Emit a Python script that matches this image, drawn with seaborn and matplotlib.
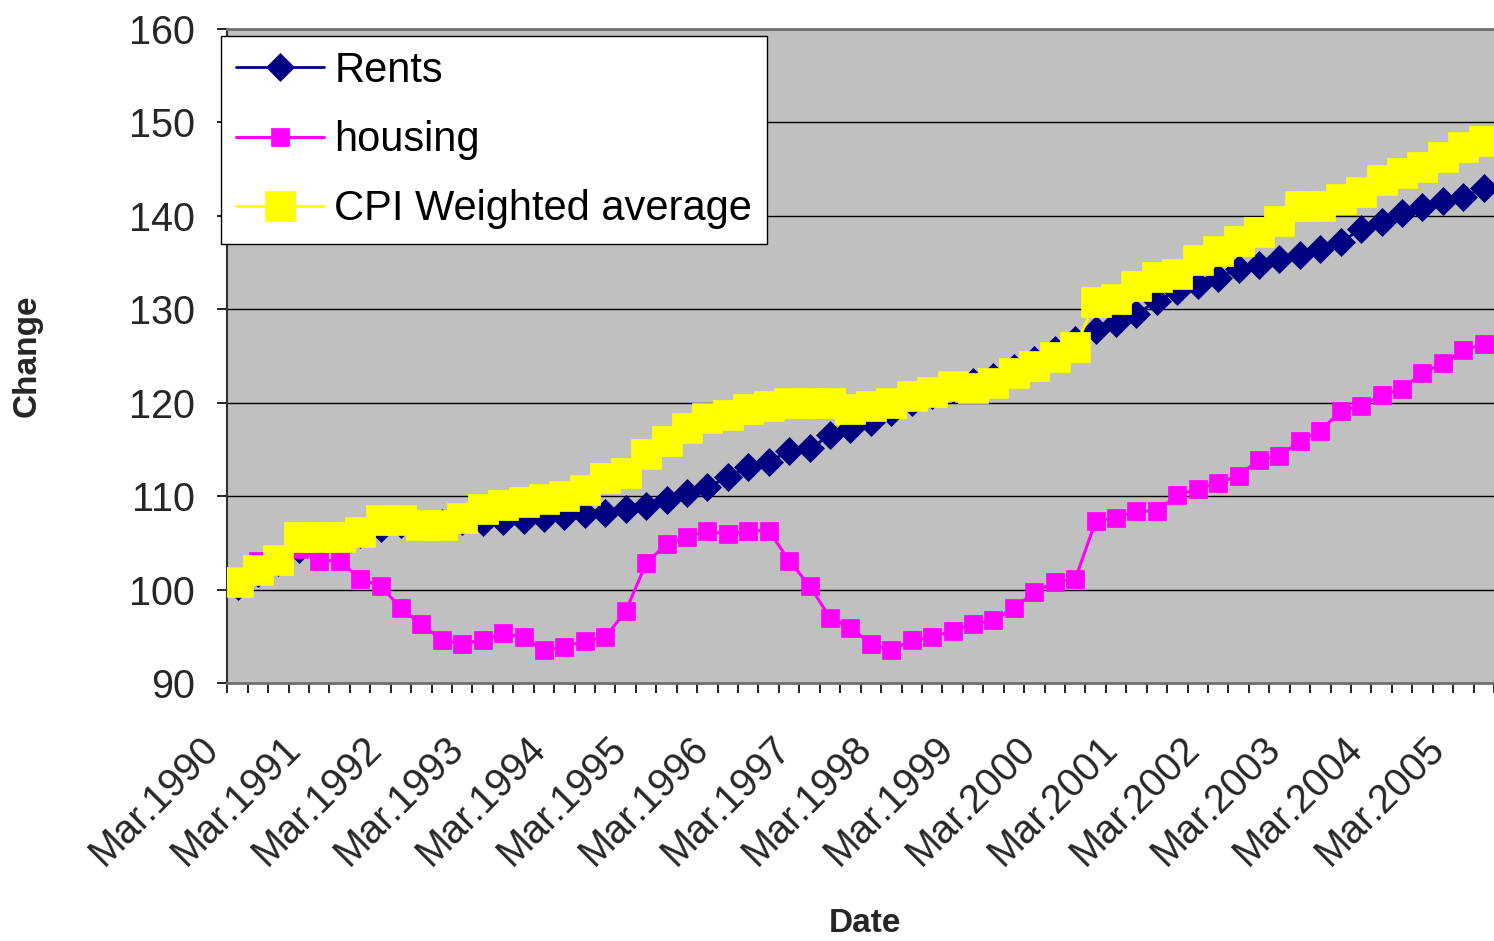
import numpy as np
import pandas as pd
import matplotlib
matplotlib.use("Agg")
import matplotlib.pyplot as plt
import seaborn as sns
from matplotlib.transforms import ScaledTranslation

# ---- data (quarterly index, Mar.1990 = first quarter) ----
rents = [100.4, 101.8, 103.0, 104.3, 104.9, 105.4, 105.9, 106.6, 107.0, 107.0,
         107.1, 107.3, 107.2, 107.3, 107.4, 107.7, 107.9, 108.1, 108.2, 108.6,
         108.9, 109.6, 110.3, 111.0, 112.0, 113.1, 113.7, 114.8, 115.1, 116.5,
         117.2, 117.9, 119.0, 120.1, 120.8, 121.5, 122.2, 122.8, 123.7, 124.6,
         125.6, 126.7, 127.8, 128.5, 129.5, 130.9, 132.0, 132.6, 133.4, 134.3,
         134.7, 135.4, 135.8, 136.4, 137.2, 138.6, 139.3, 140.3, 141.0, 141.6,
         142.0, 143.0]

housing = [101.5, 103.1, 103.6, 104.3, 103.1, 103.1, 101.1, 100.4, 98.0, 96.3,
           94.6, 94.2, 94.6, 95.3, 94.9, 93.5, 93.9, 94.5, 94.9, 97.7,
           102.8, 104.9, 105.6, 106.3, 105.9, 106.3, 106.3, 103.1, 100.4, 97.0,
           95.9, 94.2, 93.5, 94.6, 94.9, 95.6, 96.3, 96.7, 98.0, 99.7,
           100.8, 101.1, 107.3, 107.7, 108.4, 108.4, 110.1, 110.8, 111.4, 112.2,
           113.9, 114.3, 115.9, 117.0, 119.1, 119.7, 120.8, 121.5, 123.2, 124.2,
           125.6, 126.3]

cpi = [100.8, 102.1, 103.2, 105.6, 105.6, 105.6, 106.2, 107.4, 107.4, 106.9,
       106.9, 107.7, 108.6, 109.1, 109.4, 109.7, 110.0, 110.7, 111.9, 112.5,
       114.5, 115.9, 117.3, 118.4, 118.7, 119.3, 119.7, 120.0, 120.0, 120.0,
       119.3, 119.7, 120.0, 120.7, 121.1, 121.8, 121.6, 122.1, 123.2, 123.9,
       124.9, 126.0, 130.8, 131.1, 132.5, 133.5, 133.8, 135.3, 136.2, 137.3,
       138.3, 139.4, 141.1, 141.1, 141.8, 142.5, 143.8, 144.6, 145.2, 146.3,
       147.4, 148.0]

tick_labels = ["Mar.1990", "Mar.1991", "Mar.1992", "Mar.1993", "Mar.1994",
               "Mar.1995", "Mar.1996", "Mar.1997", "Mar.1998", "Mar.1999",
               "Mar.2000", "Mar.2001", "Mar.2002", "Mar.2003", "Mar.2004",
               "Mar.2005"]

series_names = ["Rents", "housing", "CPI Weighted average"]
series_colors = ["#000080", "#FF00FF", "#FFFF00"]

quarters = np.arange(len(rents))
df = pd.DataFrame({"q": quarters, "Rents": rents, "housing": housing,
                   "CPI Weighted average": cpi})

sns.set_theme(style="white")
plt.rcParams["font.family"] = ["Liberation Sans", "DejaVu Sans"]

W, H = 1494, 941
fig = plt.figure(figsize=(W / 100, H / 100), dpi=100)
x0, x1, y0, y1 = 227.3, 1494.0, 29.0, 683.0
ax = fig.add_axes([x0 / W, 1 - y1 / H, (x1 - x0) / W, (y1 - y0) / H])
ax.set_facecolor("#C0C0C0")

styles = {
    "Rents": dict(marker="D", markersize=14.5, linewidth=2.0),
    "housing": dict(marker="s", markersize=13.5, linewidth=2.2),
    "CPI Weighted average": dict(marker="s", markersize=21, linewidth=2.0),
}
for name, col in zip(series_names, series_colors):
    st = styles[name]
    sns.lineplot(data=df, x="q", y=name, ax=ax, color=col, label=name,
                 marker=st["marker"], markersize=st["markersize"],
                 markeredgecolor=col, markerfacecolor=col, markeredgewidth=0.5,
                 linewidth=st["linewidth"], zorder=3)

# axes limits / scales
tick_step_px = (1487.5 - 227.3) / 61
ax.set_xlim(-0.5, -0.5 + (x1 - x0) / tick_step_px)
ax.set_ylim(90, 160)

ax.set_yticks(np.arange(90, 161, 10))
ax.yaxis.grid(True, color="black", linewidth=1.0)
ax.xaxis.grid(False)
ax.set_axisbelow(True)

ax.set_xticks(quarters[::4][:len(tick_labels)])
ax.set_xticklabels(tick_labels, rotation=45, ha="right", va="center",
                   rotation_mode="anchor", fontsize=28.5)
ax.set_xticks(np.arange(-0.5, len(rents) + 0.5, 1), minor=True)
ax.tick_params(axis="x", which="major", length=0, pad=43)
ax.tick_params(axis="x", which="minor", length=7.2, width=1.2, color="black",
               direction="out", bottom=True)
ax.tick_params(axis="y", which="major", length=7.2, width=1.2, color="black",
               direction="out", left=True, labelsize=28.5, pad=16)
for lbl in ax.get_xticklabels():
    lbl.set_transform(lbl.get_transform() +
                      ScaledTranslation(-0.25, 0, fig.dpi_scale_trans))

for side in ["top", "bottom"]:
    ax.spines[side].set_color("#707070")
    ax.spines[side].set_linewidth(2.0)
ax.spines["left"].set_color("#303030")
ax.spines["left"].set_linewidth(1.5)
ax.spines["right"].set_visible(False)

ax.set_ylabel("Change", fontsize=24, fontweight="bold", va="center")
ax.yaxis.set_label_coords((27 - x0) / (x1 - x0), 0.5)
ax.set_xlabel("Date", fontsize=24, fontweight="bold", va="center")
ax.xaxis.set_label_coords((865 - x0) / (x1 - x0), (y1 - 923) / (y1 - y0))

leg = ax.legend(loc="upper left", bbox_to_anchor=(221 / W, 1 - 36 / H),
                bbox_transform=fig.transFigure, frameon=True, fancybox=False,
                edgecolor="black", framealpha=1, facecolor="white",
                fontsize=30, handlelength=2.12, handletextpad=0.24,
                borderpad=0.36, labelspacing=0.70, borderaxespad=0)
leg.get_frame().set_linewidth(1.0)
for t in leg.get_texts():
    t.set_color("black")

fig.savefig("out.png", dpi=100, facecolor="white")
